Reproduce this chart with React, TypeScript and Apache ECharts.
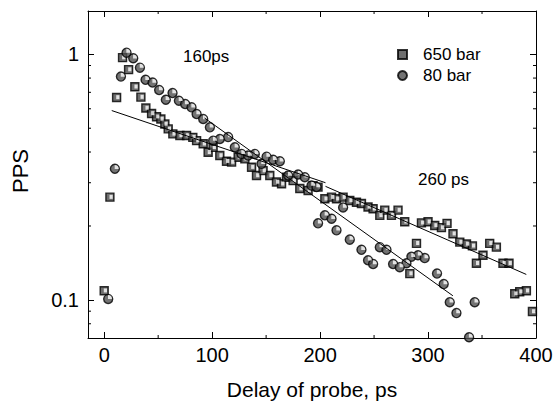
import React, { useEffect, useRef } from 'react';
import * as echarts from 'echarts';

// 650 bar (squares)
const delay650 = [0, 5.3, 11.5, 17.0, 22.6, 28.4, 34.0, 38.6, 43.9, 48.5, 52.5, 56.2, 59.3, 63.6, 70.1, 76.3, 82.1, 85.6, 91.7, 96.3, 100.9, 107.1, 113.3, 118.0, 124.1, 130.3, 136.5, 141.1, 147.2, 153.4, 159.6, 164.3, 168.9, 175.0, 181.2, 188.9, 193.5, 198.1, 204.4, 210.6, 215.2, 221.3, 227.5, 233.7, 238.3, 244.4, 249.1, 255.3, 259.9, 266.1, 272.2, 278.4, 283.1, 289.3, 293.9, 300.0, 306.2, 312.4, 317.6, 323.1, 329.4, 335.6, 341.1, 344.8, 350.9, 357.1, 363.3, 369.4, 375.0, 380.3, 384.9, 391.1, 396.7];
const pps650 = [0.109, 0.262, 0.667, 0.969, 0.866, 0.737, 0.669, 0.604, 0.574, 0.557, 0.545, 0.52, 0.497, 0.474, 0.467, 0.467, 0.459, 0.445, 0.432, 0.399, 0.418, 0.387, 0.367, 0.364, 0.381, 0.375, 0.347, 0.321, 0.336, 0.321, 0.302, 0.297, 0.316, 0.306, 0.284, 0.279, 0.292, 0.288, 0.258, 0.262, 0.258, 0.262, 0.254, 0.25, 0.247, 0.239, 0.235, 0.221, 0.232, 0.221, 0.232, 0.208, 0.128, 0.17, 0.206, 0.208, 0.201, 0.197, 0.205, 0.186, 0.172, 0.169, 0.166, 0.141, 0.152, 0.17, 0.164, 0.141, 0.141, 0.106, 0.108, 0.109, 0.0897];

// 80 bar (circles)
const delay80 = [3.7, 9.9, 15.5, 20.7, 26.9, 33.1, 38.3, 44.8, 50.9, 57.1, 63.3, 69.2, 75.0, 80.9, 85.6, 91.7, 97.9, 100.9, 107.1, 114.8, 121.0, 127.2, 133.3, 139.5, 145.7, 150.4, 156.5, 162.7, 170.4, 179.6, 185.8, 192.0, 196.7, 198.1, 204.4, 210.6, 215.2, 221.3, 227.5, 238.3, 244.4, 249.1, 255.3, 261.5, 267.6, 273.8, 280.0, 284.6, 290.7, 296.9, 308.3, 314.5, 320.1, 326.3, 338.0, 343.2];
const pps80 = [0.101, 0.342, 0.811, 1.015, 0.963, 0.882, 0.787, 0.767, 0.715, 0.653, 0.695, 0.647, 0.627, 0.608, 0.571, 0.545, 0.504, 0.445, 0.452, 0.46, 0.418, 0.393, 0.387, 0.393, 0.358, 0.383, 0.372, 0.367, 0.321, 0.324, 0.316, 0.292, 0.288, 0.205, 0.221, 0.214, 0.192, 0.238, 0.176, 0.16, 0.145, 0.14, 0.164, 0.16, 0.14, 0.136, 0.141, 0.15, 0.152, 0.148, 0.128, 0.116, 0.0979, 0.0884, 0.0705, 0.0979];

// exponential fits (end points)
const fit650EarlyX = [7, 205];
const fit650EarlyY = [0.59, 0.3];
const fit80X = [93, 323];
const fit80Y = [0.55, 0.104];
const fit650LateX = [205, 391];
const fit650LateY = [0.29, 0.127];

const xMin = -15;
const xMax = 400;
const yMin = 0.07;
const yMax = 1.5;
const xMajorTicks = [0, 100, 200, 300, 400];
const xMinorTicks = [50, 150, 250, 350];
const yMinorTicks = [0.08, 0.09, 0.2, 0.3, 0.4, 0.5, 0.6, 0.7, 0.8, 0.9];

const FONT = "'Liberation Sans', Arial, Helvetica, sans-serif";

const zip = (xs: number[], ys: number[]) => xs.map((x, i) => [x, ys[i]]);

export default function App() {
  const ref = useRef<HTMLDivElement>(null);
  useEffect(() => {
    const chart = echarts.init(ref.current!, null, { renderer: 'svg' });
    const axisLine = { show: true, onZero: false, lineStyle: { color: '#000', width: 1 } };
    const majorTick = { show: true, inside: true, length: 6, lineStyle: { color: '#000', width: 1 } };
    const tickData = [
      ...yMinorTicks.map((v) => [xMin, v, 0]),
      ...xMinorTicks.map((v) => [v, yMin, 1]),
    ];
    const option: any = {
      animation: false,
      backgroundColor: '#fff',
      grid: { left: 88, top: 11, width: 448, height: 327, containLabel: false },
      legend: {
        data: ['650 bar', '80 bar'],
        orient: 'vertical',
        left: 392,
        top: 41,
        itemWidth: 9,
        itemHeight: 9,
        itemGap: 4,
        textStyle: { fontFamily: FONT, fontSize: 17, color: '#000', padding: [0, 0, 0, 11] },
      },
      xAxis: [
        {
          type: 'value', min: xMin, max: xMax, position: 'bottom',
          axisLine, splitLine: { show: false },
          axisTick: { ...majorTick, customValues: xMajorTicks },
          axisLabel: { customValues: xMajorTicks, fontFamily: FONT, fontSize: 20, color: '#000', margin: 7 },
          name: 'Delay of probe, ps', nameLocation: 'middle', nameGap: 41,
          nameTextStyle: { fontFamily: FONT, fontSize: 21, color: '#000' },
        },
        {
          type: 'value', min: xMin, max: xMax, position: 'top',
          axisLine, splitLine: { show: false },
          axisTick: { ...majorTick, customValues: xMajorTicks },
          axisLabel: { show: false },
        },
      ],
      yAxis: [
        {
          type: 'log', logBase: 10, min: yMin, max: yMax, position: 'left',
          axisLine, splitLine: { show: false }, axisTick: majorTick,
          axisLabel: { fontFamily: FONT, fontSize: 20, color: '#000', margin: 9, showMinLabel: false, showMaxLabel: false },
          name: 'PPS', nameLocation: 'middle', nameGap: 57,
          nameTextStyle: { fontFamily: FONT, fontSize: 22, color: '#000', padding: [0, 0, 0, 7] },
        },
        {
          type: 'log', logBase: 10, min: yMin, max: yMax, position: 'right',
          axisLine, splitLine: { show: false }, axisTick: majorTick,
          axisLabel: { show: false },
        },
      ],
      series: [
        {
          type: 'custom', name: 'minorTicks', clip: false, silent: true,
          data: tickData,
          renderItem: (params: any, api: any) => {
            const cs = params.coordSys;
            const p = api.coord([api.value(0), api.value(1)]);
            const st = { stroke: '#000', lineWidth: 1 };
            if (api.value(2) === 0) {
              return {
                type: 'group',
                children: [
                  { type: 'line', shape: { x1: cs.x, y1: p[1], x2: cs.x + 3, y2: p[1] }, style: st },
                  { type: 'line', shape: { x1: cs.x + cs.width - 3, y1: p[1], x2: cs.x + cs.width, y2: p[1] }, style: st },
                ],
              };
            }
            return {
              type: 'group',
              children: [
                { type: 'line', shape: { x1: p[0], y1: cs.y + cs.height, x2: p[0], y2: cs.y + cs.height - 3 }, style: st },
                { type: 'line', shape: { x1: p[0], y1: cs.y, x2: p[0], y2: cs.y + 3 }, style: st },
              ],
            };
          },
        },
        ...[
          [fit650EarlyX, fit650EarlyY],
          [fit80X, fit80Y],
          [fit650LateX, fit650LateY],
        ].map(([xs, ys], i) => ({
          type: 'line', name: 'fit' + i, data: zip(xs, ys), symbol: 'none', silent: true,
          lineStyle: { color: '#000', width: 1 },
        })),
        {
          type: 'scatter', name: '650 bar', data: zip(delay650, pps650),
          symbol: 'rect', symbolSize: 8,
          itemStyle: { color: '#4a4a4a', borderColor: '#000', borderWidth: 1.4 },
        },
        {
          type: 'scatter', name: '650 bar hl', data: zip(delay650, pps650),
          symbol: 'rect', symbolSize: [3.2, 4], symbolOffset: [1.2, -0.3], silent: true,
          itemStyle: { color: '#fff' },
        },
        {
          type: 'scatter', name: '80 bar', data: zip(delay80, pps80),
          symbol: 'circle', symbolSize: 9,
          itemStyle: { color: '#505050', borderColor: '#000', borderWidth: 1.4 },
        },
        {
          type: 'scatter', name: '80 bar hl', data: zip(delay80, pps80),
          symbol: 'path://M0,0 L0,-10 A10,10 0 0 1 10,0 Z', symbolSize: 4, symbolOffset: [1.8, -1.8], silent: true,
          itemStyle: { color: '#fff' },
        },
      ],
      graphic: [
        { type: 'text', left: 183, top: 48, style: { text: '160ps', fontFamily: FONT, fontSize: 17, fill: '#000' } },
        { type: 'text', left: 418, top: 171, style: { text: '260 ps', fontFamily: FONT, fontSize: 17, fill: '#000' } },
      ],
    };
    chart.setOption(option);
    return () => chart.dispose();
  }, []);
  return <div ref={ref} style={{ position: 'fixed', left: 0, top: 0, width: 560, height: 405 }} />;
}
